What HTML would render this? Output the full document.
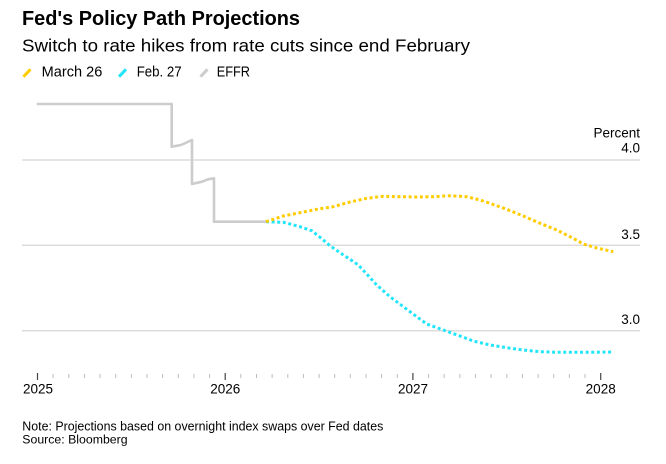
<!DOCTYPE html>
<html>
<head>
<meta charset="utf-8">
<style>
  html,body{margin:0;padding:0;background:#fff;}
  svg{display:block;}
  text{font-family:"Liberation Sans",Arial,sans-serif;fill:#000;}
</style>
</head>
<body>
<svg width="666" height="464" viewBox="0 0 666 464" xmlns="http://www.w3.org/2000/svg">
  <rect width="666" height="464" fill="#fff"/>
  <!-- Title -->
  <text x="22" y="25" font-size="20" font-weight="bold" textLength="278" lengthAdjust="spacingAndGlyphs">Fed's Policy Path Projections</text>
  <text x="22" y="51.7" font-size="17.2" textLength="448" lengthAdjust="spacingAndGlyphs" fill="#111">Switch to rate hikes from rate cuts since end February</text>

  <!-- Legend -->
  <line x1="23.5" y1="76.7" x2="30.5" y2="69.3" stroke="#ffcc00" stroke-width="3"/>
  <text x="41.7" y="76.7" font-size="14.5" textLength="60.6" lengthAdjust="spacingAndGlyphs">March 26</text>
  <line x1="119" y1="76.7" x2="126" y2="69.3" stroke="#22e5fa" stroke-width="3"/>
  <text x="136.7" y="76.7" font-size="14.5" textLength="45" lengthAdjust="spacingAndGlyphs">Feb. 27</text>
  <line x1="200.5" y1="76.7" x2="207.5" y2="69.3" stroke="#cccccc" stroke-width="3"/>
  <text x="216.7" y="76.7" font-size="14.5" textLength="33.3" lengthAdjust="spacingAndGlyphs">EFFR</text>

  <!-- Gridlines -->
  <line x1="22" y1="160" x2="640" y2="160" stroke="#dcdcdc" stroke-width="1.5"/>
  <line x1="22" y1="245.3" x2="640" y2="245.3" stroke="#dcdcdc" stroke-width="1.5"/>
  <line x1="22" y1="330.7" x2="640" y2="330.7" stroke="#dcdcdc" stroke-width="1.5"/>

  <!-- Y labels -->
  <text x="640" y="137.3" font-size="13.5" text-anchor="end" fill="#111">Percent</text>
  <text x="640" y="152.7" font-size="13.5" text-anchor="end" fill="#111">4.0</text>
  <text x="640" y="239" font-size="13.5" text-anchor="end" fill="#111">3.5</text>
  <text x="640" y="324" font-size="13.5" text-anchor="end" fill="#111">3.0</text>

  <!-- EFFR -->
  <polyline fill="none" stroke="#cccccc" stroke-width="2.6" stroke-linejoin="round"
    points="36.7,104 171.7,104 171.7,146.7 181,145 192,140 192,184 202,181.7 208,179.3 214,178.3 214,221.7 266,221.7"/>

  <!-- Feb 27 (cyan) -->
  <polyline fill="none" stroke="#22e5fa" stroke-width="3" stroke-dasharray="3 2.6"
    points="266,221.7 283.3,222.3 300,226.7 311.7,230.7 320,237.3 330,245.7 340,252.7 350,259.3 358.3,265 366.7,274 376.7,285 390,296.7 403.3,306.7 416.7,316.7 426.7,324 443.3,330 460,336 473.3,341 490,345 506.7,347.7 523.3,350 540,351.7 556.7,352.3 573.3,352.3 590,352.3 613.3,352"/>

  <!-- March 26 (yellow) -->
  <polyline fill="none" stroke="#ffcc00" stroke-width="3" stroke-dasharray="3 2.6"
    points="266,221.7 283.3,216 300,212.7 316.7,209.3 333.3,206.7 350,202 366.7,198.3 383.3,196.3 400,196.7 416.7,197 433.3,196.7 450,195.7 466.7,196.7 480,200 490,203.3 506.7,209.3 523.3,216 540,223.3 556.7,230 573.3,238.3 583.3,244 596.7,248 613.3,251.7"/>

  <!-- X axis ticks -->
  <g stroke="#444" stroke-width="1.2">
    <line x1="37.5" y1="373" x2="37.5" y2="380"/>
    <line x1="225.2" y1="373" x2="225.2" y2="380"/>
    <line x1="412.9" y1="373" x2="412.9" y2="380"/>
    <line x1="600.7" y1="373" x2="600.7" y2="380"/>
  </g>
  <g stroke="#bbbbbb" stroke-width="1">
    <line x1="53.1" y1="374" x2="53.1" y2="378"/>
    <line x1="68.8" y1="374" x2="68.8" y2="378"/>
    <line x1="84.4" y1="374" x2="84.4" y2="378"/>
    <line x1="100.1" y1="374" x2="100.1" y2="378"/>
    <line x1="115.7" y1="374" x2="115.7" y2="378"/>
    <line x1="131.4" y1="374" x2="131.4" y2="378"/>
    <line x1="147" y1="374" x2="147" y2="378"/>
    <line x1="162.6" y1="374" x2="162.6" y2="378"/>
    <line x1="178.3" y1="374" x2="178.3" y2="378"/>
    <line x1="193.9" y1="374" x2="193.9" y2="378"/>
    <line x1="209.6" y1="374" x2="209.6" y2="378"/>
    <line x1="240.8" y1="374" x2="240.8" y2="378"/>
    <line x1="256.5" y1="374" x2="256.5" y2="378"/>
    <line x1="272.1" y1="374" x2="272.1" y2="378"/>
    <line x1="287.8" y1="374" x2="287.8" y2="378"/>
    <line x1="303.4" y1="374" x2="303.4" y2="378"/>
    <line x1="319.1" y1="374" x2="319.1" y2="378"/>
    <line x1="334.7" y1="374" x2="334.7" y2="378"/>
    <line x1="350.3" y1="374" x2="350.3" y2="378"/>
    <line x1="366" y1="374" x2="366" y2="378"/>
    <line x1="381.6" y1="374" x2="381.6" y2="378"/>
    <line x1="397.3" y1="374" x2="397.3" y2="378"/>
    <line x1="428.5" y1="374" x2="428.5" y2="378"/>
    <line x1="444.2" y1="374" x2="444.2" y2="378"/>
    <line x1="459.8" y1="374" x2="459.8" y2="378"/>
    <line x1="475.5" y1="374" x2="475.5" y2="378"/>
    <line x1="491.1" y1="374" x2="491.1" y2="378"/>
    <line x1="506.8" y1="374" x2="506.8" y2="378"/>
    <line x1="522.4" y1="374" x2="522.4" y2="378"/>
    <line x1="538.1" y1="374" x2="538.1" y2="378"/>
    <line x1="553.7" y1="374" x2="553.7" y2="378"/>
    <line x1="569.4" y1="374" x2="569.4" y2="378"/>
    <line x1="585" y1="374" x2="585" y2="378"/>
  </g>

  <!-- X labels -->
  <text x="38" y="393.3" font-size="13.5" text-anchor="middle" fill="#111">2025</text>
  <text x="225.3" y="393.3" font-size="13.5" text-anchor="middle" fill="#111">2026</text>
  <text x="413" y="393.3" font-size="13.5" text-anchor="middle" fill="#111">2027</text>
  <text x="600.7" y="393.3" font-size="13.5" text-anchor="middle" fill="#111">2028</text>

  <!-- Footnotes -->
  <text x="22.3" y="430.5" font-size="12.5" textLength="361" lengthAdjust="spacingAndGlyphs" fill="#111">Note: Projections based on overnight index swaps over Fed dates</text>
  <text x="22.3" y="443.3" font-size="12.3" fill="#111">Source: Bloomberg</text>
</svg>
</body>
</html>
